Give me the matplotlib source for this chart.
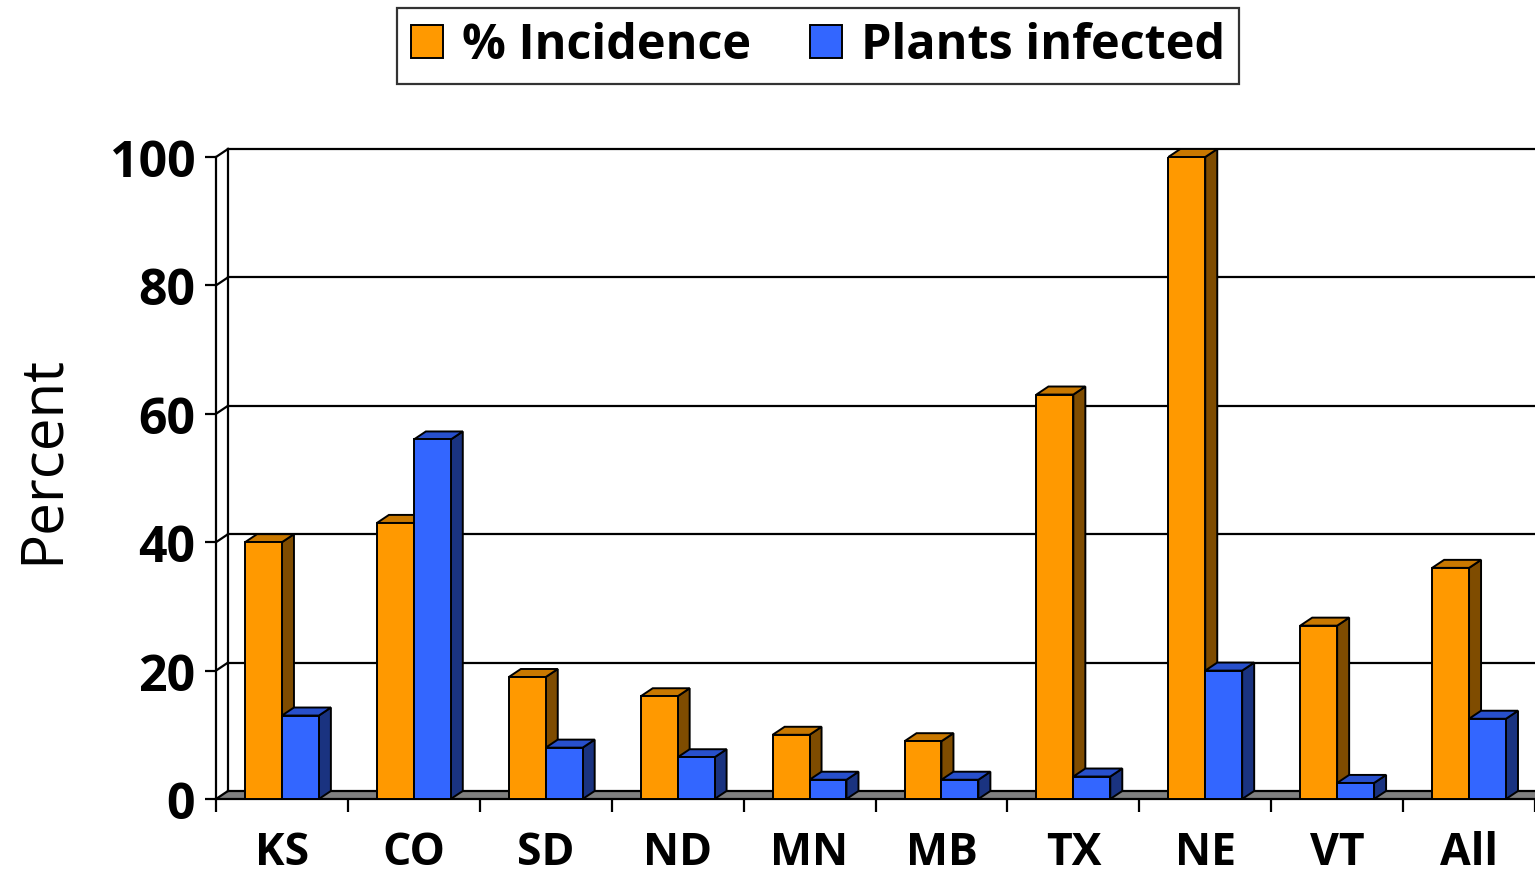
import matplotlib
matplotlib.use("Agg")
import matplotlib.pyplot as plt
from matplotlib.patches import Polygon

# Data
states = ['KS', 'CO', 'SD', 'ND', 'MN', 'MB', 'TX', 'NE', 'VT', 'All']
incidence = [40, 43, 19, 16, 10, 9, 63, 100, 27, 36]
infected = [13, 56, 8, 6.5, 3, 3, 3.5, 20, 2.5, 12.5]
yticks = [0, 20, 40, 60, 80, 100]

# 3D look: depth offset in data units (x in categories, y in percent)
dx, dy = 0.091, 1.25
bw = 0.28
x0_inc, x0_inf = 0.22, 0.50

fig = plt.figure(figsize=(15.35, 8.79), dpi=100)
ax = fig.add_axes([216 / 1535, 79 / 879, 1319 / 1535, 642 / 879])
ax.set_xlim(0, 10)
ax.set_ylim(0, 100)
for s in ['top', 'right']:
    ax.spines[s].set_visible(False)
ax.spines['left'].set_linewidth(1.6)
ax.spines['bottom'].set_linewidth(1.6)

# floor
ax.add_patch(Polygon([(0, 0), (10, 0), (10 + dx, dy), (dx, dy)], closed=True,
                     facecolor='#808080', edgecolor='none', clip_on=False, zorder=1))
ax.plot([dx, 10 + dx], [dy, dy], color='black', lw=1.6, clip_on=False, zorder=1.5)

# back wall: vertical edge, gridlines, and diagonals on the side wall
ax.plot([dx, dx], [dy, 100 + dy], color='black', lw=1.6, clip_on=False, zorder=1.5)
for v in yticks:
    if v > 0:
        ax.plot([dx, 10 + dx], [v + dy, v + dy], color='black', lw=1.6,
                clip_on=False, zorder=1.5)
    ax.plot([0, dx], [v, v + dy], color='black', lw=1.6, clip_on=False, zorder=1.5)


def bar3d(xs, vals, front, top, side, label):
    # front faces through ax.bar, then top and side faces offset by the depth
    ax.bar(xs, vals, width=bw, align='edge', color=front, edgecolor='black',
           linewidth=1.4, label=label, zorder=3)
    for x, v in zip(xs, vals):
        x1 = x + bw
        ax.add_patch(Polygon([(x1, 0), (x1 + dx, dy), (x1 + dx, v + dy), (x1, v)],
                             closed=True, facecolor=side, edgecolor='black',
                             lw=1.4, clip_on=False, zorder=2.5))
        ax.add_patch(Polygon([(x, v), (x1, v), (x1 + dx, v + dy), (x + dx, v + dy)],
                             closed=True, facecolor=top, edgecolor='black',
                             lw=1.4, clip_on=False, zorder=2.5))


pos = list(range(len(states)))
bar3d([p + x0_inc for p in pos], incidence, '#FF9900', '#C97800', '#7F4C00', '% Incidence')
bar3d([p + x0_inf for p in pos], infected, '#3366FF', '#2850CC', '#1A3380', 'Plants infected')

# ticks
ax.set_yticks(yticks)
ax.set_yticklabels([str(v) for v in yticks], fontfamily='Open Sans',
                   fontweight='bold', fontsize=36)
ax.tick_params(axis='y', direction='out', length=8, width=1.6, pad=7)
ax.set_xticks(range(11))
ax.set_xticklabels([])
ax.set_xticks([p + 0.5 for p in pos], minor=True)
ax.set_xticklabels(states, minor=True, fontfamily='Open Sans',
                   fontweight='bold', fontsize=32)
ax.tick_params(axis='x', which='major', direction='out', length=9, width=1.6)
ax.tick_params(axis='x', which='minor', length=0, pad=22)

fig.text(43 / 1535, 1 - 460 / 879, 'Percent', rotation=90, ha='center', va='center',
         fontfamily='Open Sans', fontsize=42)

leg = fig.legend(loc='upper center', bbox_to_anchor=(0.533, 0.99),
                 ncol=2, frameon=True, fancybox=False, borderpad=0.28,
                 handlelength=0.66, handleheight=0.66, handletextpad=0.4,
                 columnspacing=1.2, borderaxespad=0,
                 prop={'family': 'Open Sans', 'weight': 'bold', 'size': 35})
leg.get_frame().set_edgecolor('black')
leg.get_frame().set_linewidth(1.6)

fig.savefig('out.png', dpi=100)
